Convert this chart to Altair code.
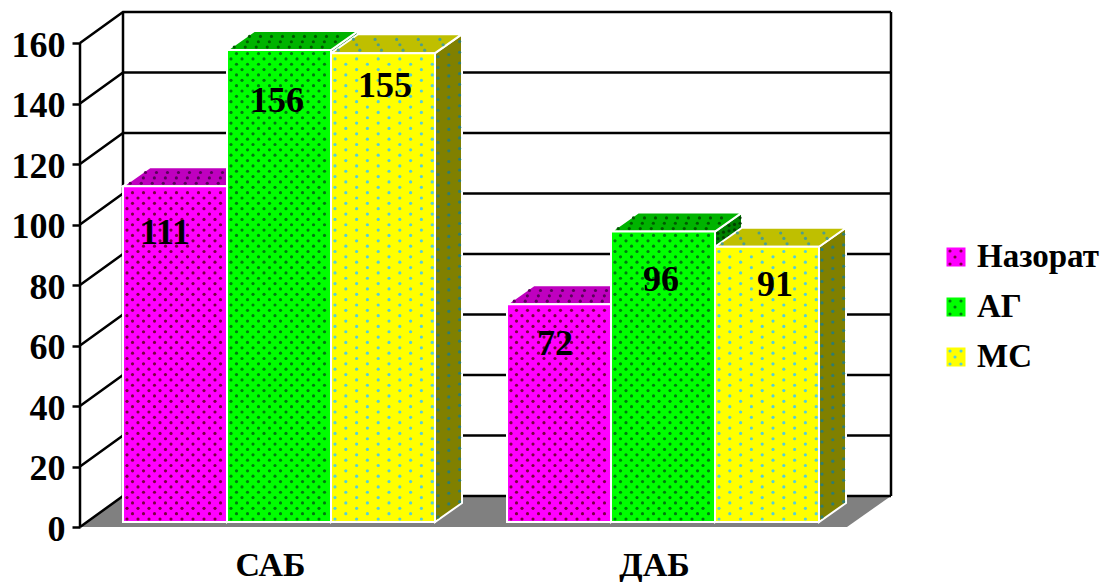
import altair as alt
import pandas as pd

alt.data_transformers.disable_max_rows()

# Chart data
groups = ["САБ", "ДАБ"]
series = ["Назорат", "АГ", "МС"]
values_sab = [111, 156, 155]
values_dab = [72, 96, 91]
y_ticks = [0, 20, 40, 60, 80, 100, 120, 140, 160]

# Face colours per series: front, top, side
front_colors = ["#FF00FF", "#00FF00", "#FFFF00"]
top_colors = ["#BF00BF", "#00B300", "#BFBF00"]
side_colors = ["#800080", "#008000", "#808000"]
front_dots = ["#7A0040", "#007A10", "#55CFD8"]
top_dots = ["#5A005A", "#005A00", "#4E9E88"]
side_dots = ["#400040", "#004000", "#2E7C70"]
dot_steps = [(11.0, 5.35), (11.0, 5.35), (21.6, 5.35)]
dot_sizes = [10, 10, 10]

FONT = "Liberation Serif"

# Plot frame in pixels, and the scale factors of both axes
LEFT, TOP, PLOT_W, PLOT_H = 80, 12, 811, 515
PX_SLOT = 104.0      # one bar width
PX_VAL = 3.025       # one value unit
ZERO_X = 123         # left edge of the first bar
ZERO_Y = 527


def sx(px):
    return (px - ZERO_X) / PX_SLOT


def sy(px):
    return (ZERO_Y - px) / PX_VAL


X_DOMAIN = [sx(LEFT), sx(LEFT + PLOT_W)]
Y_DOMAIN = [0, PLOT_H / PX_VAL]

# 3D geometry: chart wall depth, bar depth, bar lift above the floor edge
WALL_DX, WALL_DY = 43 / PX_SLOT, 31 / PX_VAL
BAR_DX, BAR_DY = 27 / PX_SLOT, 19 / PX_VAL
BAR_BASE = 5 / PX_VAL
GROUP_STARTS = [0.0, sx(507)]

bars = []
for g, (start, vals) in enumerate(zip(GROUP_STARTS, [values_sab, values_dab])):
    for s, v in enumerate(vals):
        bars.append({"group": groups[g], "s": s, "v": v, "x0": start + s, "x1": start + s + 1,
                     "y0": BAR_BASE, "y1": BAR_BASE + v})

fronts = pd.DataFrame([
    {"x": b["x0"], "x2": b["x1"], "y": b["y0"], "y2": b["y1"], "fill": front_colors[b["s"]]}
    for b in bars
])

sides, tops, side_pts, top_pts, front_pts = [], [], [], [], []
for i, b in enumerate(bars):
    s = b["s"]
    hstep, vstep = dot_steps[s]
    size = dot_sizes[s]
    # side face: two-point band rising to the back
    sides += [
        {"id": i, "x": b["x1"], "y": b["y1"], "y2": b["y0"], "fill": side_colors[s]},
        {"id": i, "x": b["x1"] + BAR_DX, "y": b["y1"] + BAR_DY, "y2": b["y0"] + BAR_DY, "fill": side_colors[s]},
    ]
    # top face: parallelogram described by its upper and lower edges
    tops += [
        {"id": i, "x": b["x0"], "y": b["y1"], "y2": b["y1"], "fill": top_colors[s]},
        {"id": i, "x": b["x0"] + BAR_DX, "y": b["y1"] + BAR_DY, "y2": b["y1"], "fill": top_colors[s]},
        {"id": i, "x": b["x1"], "y": b["y1"] + BAR_DY, "y2": b["y1"], "fill": top_colors[s]},
        {"id": i, "x": b["x1"] + BAR_DX, "y": b["y1"] + BAR_DY, "y2": b["y1"] + BAR_DY, "fill": top_colors[s]},
    ]
    # dotted fill texture on the three faces
    width_px = (b["x1"] - b["x0"]) * PX_SLOT
    height_px = b["v"] * PX_VAL
    row = 0
    py = 3.0
    while py < height_px - 2:
        px = 4.0 + (hstep / 2 if row % 2 else 0.0)
        while px < width_px - 2:
            front_pts.append({"x": b["x0"] + px / PX_SLOT, "y": b["y0"] + py / PX_VAL,
                              "fill": front_dots[s], "size": size})
            px += hstep
        py += vstep
        row += 1
    row = 0
    depth = 3.0
    while depth < 18:
        shift = depth * 27 / 19
        px = 3.0 + shift + (hstep / 2 if row % 2 else 0.0)
        while px < width_px + shift - 2:
            top_pts.append({"x": b["x0"] + px / PX_SLOT, "y": b["y1"] + depth / PX_VAL,
                            "fill": top_dots[s], "size": size})
            px += hstep
        depth += vstep
        row += 1
    col = 0
    across = 3.0
    side_step = hstep / 2
    side_v = vstep * 2 if s == 2 else vstep
    while across < 26:
        rise = across * 19 / 27
        py = 3.0 + (side_v / 2 if col % 2 else 0.0)
        while py < height_px - 2:
            side_pts.append({"x": b["x1"] + across / PX_SLOT, "y": b["y0"] + (py + rise) / PX_VAL,
                             "fill": side_dots[s], "size": size})
            py += side_v
        across += side_step
        col += 1

sides = pd.DataFrame(sides)
tops = pd.DataFrame(tops)

# Walls: floor polygon plus grid polylines running from the front axis to the back wall
floor_right = sx(847)
floor = pd.DataFrame([
    {"x": X_DOMAIN[0], "y": 0, "y2": 0},
    {"x": 0.0, "y": WALL_DY, "y2": 0},
    {"x": floor_right, "y": WALL_DY, "y2": 0},
    {"x": X_DOMAIN[1], "y": WALL_DY, "y2": WALL_DY},
])

grid = []
for t in y_ticks:
    grid += [
        {"id": f"g{t}", "o": 0, "x": X_DOMAIN[0], "y": t},
        {"id": f"g{t}", "o": 1, "x": 0.0, "y": t + WALL_DY},
        {"id": f"g{t}", "o": 2, "x": X_DOMAIN[1], "y": t + WALL_DY},
    ]
top_tick = y_ticks[-1]
for name, xpos, y_from, y_to in [
    ("front", X_DOMAIN[0], 0, top_tick),
    ("back", 0.0, WALL_DY, top_tick + WALL_DY),
    ("right", X_DOMAIN[1], WALL_DY, top_tick + WALL_DY),
]:
    grid += [
        {"id": name, "o": 0, "x": xpos, "y": y_from},
        {"id": name, "o": 1, "x": xpos, "y": y_to},
    ]
grid = pd.DataFrame(grid)

# Value labels, each nudged inside its bar (pixels across, pixels below the bar top)
label_nudges = [(-10, 47), (-2, 51), (2, 33), (-4, 40), (-2, 48), (8, 38)]
labels = pd.DataFrame([
    {"x": b["x0"] + 0.5 + n[0] / PX_SLOT, "y": b["y1"] - n[1] / PX_VAL, "text": str(b["v"])}
    for b, n in zip(bars, label_nudges)
])

# Legend drawn from marks so the swatches carry the same dotted texture
legend_rows = [257, 307, 357]
legend_swatches = pd.DataFrame([
    {"x": sx(956), "y": sy(py), "fill": c} for py, c in zip(legend_rows, front_colors)
])
legend_text = pd.DataFrame([
    {"x": sx(977), "y": sy(py), "text": t} for py, t in zip(legend_rows, series)
])
legend_dots = []
for py, c, size in zip(legend_rows, front_dots, dot_sizes):
    for ox, oy in [(-6, -6), (5, -6), (-1, 0), (-6, 7), (5, 7)]:
        legend_dots.append({"x": sx(956 + ox), "y": sy(py + oy), "fill": c, "size": size})

group_centers = [sx(270), sx(654)]
label_expr = f"datum.value < 3 ? '{groups[0]}' : '{groups[1]}'"

X = alt.X(
    "x:Q",
    scale=alt.Scale(domain=X_DOMAIN, nice=False, zero=False),
    axis=alt.Axis(
        values=group_centers, labelExpr=label_expr, title=None, grid=False, domain=False,
        ticks=False, labelFont=FONT, labelFontWeight="bold", labelFontSize=34, labelColor="black",
        labelPadding=38, labelBaseline="middle", labelFlush=False, labelOverlap=False,
    ),
)
Y = alt.Y(
    "y:Q",
    stack=None,
    scale=alt.Scale(domain=Y_DOMAIN, nice=False, zero=False),
    axis=alt.Axis(
        values=y_ticks, format="d", title=None, grid=False, domain=False, tickColor="black",
        tickWidth=2.5, tickSize=8, labelPadding=7, labelFont=FONT, labelFontWeight="bold",
        labelFontSize=36, labelColor="black", labelOverlap=False, labelFlush=False, labelOffset=2,
    ),
)
FILL = alt.Fill("fill:N", scale=None, legend=None)
SIZE = alt.Size("size:Q", scale=None, legend=None)


def dots(frame):
    return alt.Chart(pd.DataFrame(frame)).mark_circle(opacity=1).encode(x=X, y=Y, fill=FILL, size=SIZE)


floor_layer = alt.Chart(floor).mark_area(color="#808080").encode(x=X, y=Y, y2="y2:Q")
grid_layer = alt.Chart(grid).mark_line(color="black", strokeWidth=2.5).encode(
    x=X, y=Y, detail="id:N", order="o:Q"
)
side_layer = alt.Chart(sides).mark_area(stroke="white", strokeWidth=2).encode(
    x=X, y=Y, y2="y2:Q", fill=FILL, detail="id:N"
)
top_layer = alt.Chart(tops).mark_area(stroke="white", strokeWidth=2).encode(
    x=X, y=Y, y2="y2:Q", fill=FILL, detail="id:N"
)
front_layer = alt.Chart(fronts).mark_rect(stroke="white", strokeWidth=2).encode(
    x=X, x2="x2:Q", y=Y, y2="y2:Q", fill=FILL
)
label_layer = alt.Chart(labels).mark_text(
    font=FONT, fontWeight="bold", fontSize=36, color="black", align="center", baseline="middle"
).encode(x=X, y=Y, text="text:N")
swatch_layer = alt.Chart(legend_swatches).mark_square(size=361, opacity=1).encode(x=X, y=Y, fill=FILL)
legend_label_layer = alt.Chart(legend_text).mark_text(
    font=FONT, fontWeight="bold", fontSize=33, color="black", align="left", baseline="middle"
).encode(x=X, y=Y, text="text:N")

chart = alt.layer(
    floor_layer,
    grid_layer,
    side_layer,
    dots(side_pts),
    top_layer,
    dots(top_pts),
    front_layer,
    dots(front_pts),
    label_layer,
    swatch_layer,
    dots(legend_dots),
    legend_label_layer,
).properties(
    width=PLOT_W,
    height=PLOT_H,
    padding={"left": LEFT, "top": TOP, "right": 1103 - LEFT - PLOT_W, "bottom": 582 - TOP - PLOT_H},
    autosize=alt.AutoSizeParams(type="none"),
    background="white",
).configure_view(stroke=None)

chart.save("out.html", embed_options={"renderer": "svg", "actions": False})
